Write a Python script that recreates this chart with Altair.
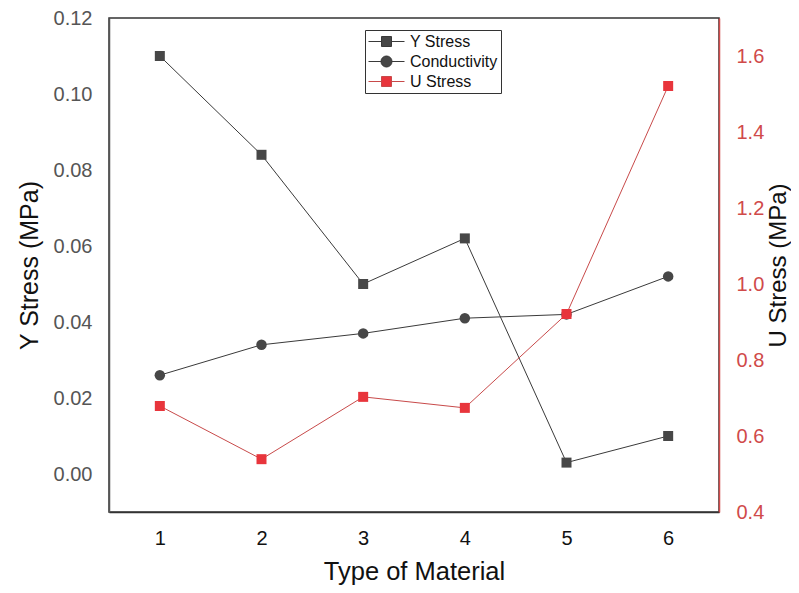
import altair as alt
import pandas as pd

materials = [1, 2, 3, 4, 5, 6]
y_stress = [0.110, 0.084, 0.050, 0.062, 0.003, 0.010]
conductivity = [0.026, 0.034, 0.037, 0.041, 0.042, 0.052]
u_stress = [0.679, 0.539, 0.703, 0.674, 0.921, 1.521]
series_names = ["Y Stress", "Conductivity", "U Stress"]
left_ticks = [0.00, 0.02, 0.04, 0.06, 0.08, 0.10, 0.12]
right_ticks = [0.4, 0.6, 0.8, 1.0, 1.2, 1.4, 1.6]

df_left = pd.DataFrame({
    "material": materials * 2,
    "value": y_stress + conductivity,
    "series": ["Y Stress"] * 6 + ["Conductivity"] * 6,
})
df_u = pd.DataFrame({"material": materials, "value": u_stress, "series": ["U Stress"] * 6})

FONT = "Liberation Sans"
GRAY = "#474747"
RED_FILL = "#e8353c"
RED_LINE = "#c84a4a"
RED_AXIS = "#d04a4a"

x_enc = alt.X(
    "material:Q",
    scale=alt.Scale(domain=[0.5, 6.5], nice=False, zero=False),
    axis=alt.Axis(values=materials, format="d", title="Type of Material", grid=False,
                  ticks=False, domainColor="#333333", domainWidth=1.5,
                  labelFontSize=20, labelColor="#111111", labelPadding=16, labelFont=FONT,
                  titleFontSize=25.5, titleFontWeight="normal", titleColor="#111111",
                  titleFont=FONT, titlePadding=11),
)

y_left = alt.Y(
    "value:Q",
    scale=alt.Scale(domain=[-0.01, 0.12], nice=False, zero=False),
    axis=alt.Axis(values=left_ticks, format=".2f", title="Y Stress (MPa)", grid=False,
                  ticks=False, domainColor="#555555", domainWidth=1.5,
                  labelFontSize=20, labelColor="#555555", labelPadding=17, labelFont=FONT,
                  titleFontSize=25, titleFontWeight="normal", titleColor="#111111",
                  titleFont=FONT, titlePadding=11),
)

y_right = alt.Y(
    "value:Q",
    scale=alt.Scale(domain=[0.4, 1.7], nice=False, zero=False),
    axis=alt.Axis(orient="right", values=right_ticks, format=".1f", title="U Stress (MPa)",
                  grid=False, ticks=False, domainColor=RED_AXIS, domainWidth=1.5,
                  labelFontSize=20, labelColor=RED_AXIS, labelPadding=17, labelFont=FONT,
                  titleFontSize=24, titleFontWeight="normal", titleColor="#111111",
                  titleFont=FONT, titlePadding=3, titleAngle=270, titleBaseline="top"),
)

base_left = alt.Chart(df_left)
ys_line = base_left.transform_filter(alt.datum.series == "Y Stress").mark_line(
    color="#3a3a3a", strokeWidth=1).encode(x=x_enc, y=y_left)
ys_pts = base_left.transform_filter(alt.datum.series == "Y Stress").mark_point(
    shape="square", filled=True, size=100, color=GRAY, opacity=1).encode(x=x_enc, y=y_left)
co_line = base_left.transform_filter(alt.datum.series == "Conductivity").mark_line(
    color="#3a3a3a", strokeWidth=1).encode(x=x_enc, y=y_left)
co_pts = base_left.transform_filter(alt.datum.series == "Conductivity").mark_point(
    shape="circle", filled=True, size=110, color=GRAY, opacity=1).encode(x=x_enc, y=y_left)

sq_path = "M-1,0H0.625M1.875,0H3.5M0.625,-0.625H1.875V0.625H0.625Z"
ci_path = "M-1,0H0.56M1.94,0H3.5M0.56,0A0.69,0.69,0,1,0,1.94,0A0.69,0.69,0,1,0,0.56,0Z"

leg = alt.Legend(title=None, orient="none", legendX=256, legendY=12,
                 strokeColor="#333333", padding=3, rowPadding=3,
                 labelFontSize=16, labelFont=FONT, labelColor="#111111",
                 labelOffset=25, symbolSize=256, symbolOpacity=1, symbolStrokeWidth=1)

legend_layer = base_left.mark_point(filled=True, opacity=0).encode(
    x=x_enc, y=y_left,
    fill=alt.Fill("series:N", scale=alt.Scale(domain=series_names, range=[GRAY, GRAY, RED_FILL]), legend=leg),
    stroke=alt.Stroke("series:N", scale=alt.Scale(domain=series_names, range=["#3a3a3a", "#3a3a3a", RED_LINE]), legend=leg),
    shape=alt.Shape("series:N", scale=alt.Scale(domain=series_names, range=[sq_path, ci_path, sq_path]), legend=leg),
)

left = alt.layer(ys_line, co_line, ys_pts, co_pts, legend_layer)

base_u = alt.Chart(df_u)
u_line = base_u.mark_line(color=RED_LINE, strokeWidth=1).encode(x=x_enc, y=y_right)
u_pts = base_u.mark_point(shape="square", filled=True, size=100, color=RED_FILL, opacity=1).encode(x=x_enc, y=y_right)
right = alt.layer(u_line, u_pts)

chart = alt.layer(left, right).resolve_scale(y="independent").properties(
    width=783, height=577,
    autosize=alt.AutoSizeParams(type="fit", contains="padding"),
    padding={"left": 9, "top": 0, "right": 0, "bottom": 0},
    background="white",
).configure_view(stroke="#333333", strokeWidth=1.5)

chart.save("out.html", embed_options={"renderer": "svg", "actions": False})
